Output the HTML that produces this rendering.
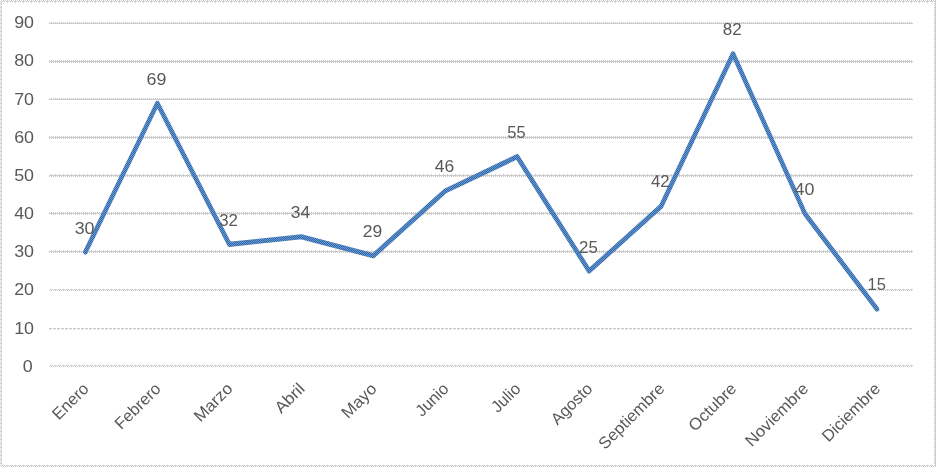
<!DOCTYPE html>
<html lang="es">
<head>
<meta charset="utf-8">
<title>Gráfico mensual</title>
<style>
html,body{margin:0;padding:0;background:#fff;}
body{width:936px;height:467px;overflow:hidden;}
svg{display:block;}
text{font-family:"Liberation Sans",sans-serif;fill:#595959;}
.g{stroke:#cccccc;stroke-width:1;shape-rendering:crispEdges;fill:none;}
</style>
</head>
<body>
<svg width="936" height="467" viewBox="0 0 936 467" font-size="17.0">
<rect x="0" y="0" width="936" height="467" fill="#ffffff"/>

<g id="border">
<line class="g" x1="0" y1="0.5" x2="936" y2="0.5" stroke-dasharray="1 1" stroke-dashoffset="-1"/>
<line class="g" x1="0" y1="1.5" x2="936" y2="1.5" stroke-dasharray="3 1" stroke-dashoffset="-2"/>
<line class="g" x1="0" y1="2.5" x2="936" y2="2.5" stroke-dasharray="1 7" stroke-dashoffset="-7"/>
<line class="g" x1="0.5" y1="0" x2="0.5" y2="467" stroke-dasharray="1 1" stroke-dashoffset="-1"/>
<line class="g" x1="1.5" y1="0" x2="1.5" y2="467" stroke-dasharray="3 1" stroke-dashoffset="-2"/>
<line class="g" x1="0" y1="465.5" x2="936" y2="465.5" stroke-dasharray="3 1" stroke-dashoffset="-2"/>
<line class="g" x1="0" y1="466.5" x2="936" y2="466.5" stroke-dasharray="1 1" stroke-dashoffset="-1"/>
<line class="g" x1="934.5" y1="0" x2="934.5" y2="467" stroke-dasharray="1 1" stroke-dashoffset="-1"/>
<line class="g" x1="935.5" y1="0" x2="935.5" y2="467"/>
</g>
<g id="grid">
<line class="g" x1="49" y1="22.5" x2="913" y2="22.5" stroke-dasharray="1 1" stroke-dashoffset="0"/>
<line class="g" x1="49" y1="23.5" x2="913" y2="23.5"/>
<line class="g" x1="49" y1="60.5" x2="913" y2="60.5" stroke-dasharray="1 1" stroke-dashoffset="0"/>
<line class="g" x1="49" y1="61.5" x2="913" y2="61.5"/>
<line class="g" x1="49" y1="62.5" x2="913" y2="62.5" stroke-dasharray="1 1" stroke-dashoffset="0"/>
<line class="g" x1="49" y1="98.5" x2="913" y2="98.5" stroke-dasharray="1 1" stroke-dashoffset="0"/>
<line class="g" x1="49" y1="99.5" x2="913" y2="99.5"/>
<line class="g" x1="49" y1="136.5" x2="913" y2="136.5" stroke-dasharray="1 1" stroke-dashoffset="0"/>
<line class="g" x1="49" y1="137.5" x2="913" y2="137.5"/>
<line class="g" x1="49" y1="138.5" x2="913" y2="138.5" stroke-dasharray="1 1" stroke-dashoffset="0"/>
<line class="g" x1="49" y1="174.5" x2="913" y2="174.5" stroke-dasharray="1 3" stroke-dashoffset="-2"/>
<line class="g" x1="49" y1="175.5" x2="913" y2="175.5"/>
<line class="g" x1="49" y1="176.5" x2="913" y2="176.5" stroke-dasharray="1 1" stroke-dashoffset="0"/>
<line class="g" x1="49" y1="212.5" x2="913" y2="212.5" stroke-dasharray="1 1" stroke-dashoffset="0"/>
<line class="g" x1="49" y1="213.5" x2="913" y2="213.5"/>
<line class="g" x1="49" y1="214.5" x2="913" y2="214.5" stroke-dasharray="1 1 1 1 1 3" stroke-dashoffset="-2"/>
<line class="g" x1="49" y1="250.5" x2="913" y2="250.5" stroke-dasharray="1 3" stroke-dashoffset="-2"/>
<line class="g" x1="49" y1="251.5" x2="913" y2="251.5"/>
<line class="g" x1="49" y1="252.5" x2="913" y2="252.5" stroke-dasharray="1 1" stroke-dashoffset="0"/>
<line class="g" x1="49" y1="289.5" x2="913" y2="289.5" stroke-dasharray="3 1" stroke-dashoffset="-1"/>
<line class="g" x1="49" y1="290.5" x2="913" y2="290.5" stroke-dasharray="1 1" stroke-dashoffset="0"/>
<line class="g" x1="49" y1="328.5" x2="913" y2="328.5" stroke-dasharray="3 1" stroke-dashoffset="0"/>
<line class="g" x1="49" y1="329.5" x2="913" y2="329.5" stroke-dasharray="1 3" stroke-dashoffset="-1"/>
<line class="g" x1="49" y1="365.5" x2="913" y2="365.5" stroke-dasharray="3 1" stroke-dashoffset="-1"/>
<line class="g" x1="49" y1="366.5" x2="913" y2="366.5" stroke-dasharray="1 1" stroke-dashoffset="0"/>
</g>
<g id="yaxis" text-anchor="end">
<text transform="translate(32.8,372) scale(1.05,1)">0</text>
<text transform="translate(34.0,334) scale(1.05,1)">10</text>
<text transform="translate(34.0,295) scale(1.05,1)">20</text>
<text transform="translate(34.0,257) scale(1.05,1)">30</text>
<text transform="translate(34.0,219) scale(1.05,1)">40</text>
<text transform="translate(34.0,181) scale(1.05,1)">50</text>
<text transform="translate(34.0,143) scale(1.05,1)">60</text>
<text transform="translate(34.0,105) scale(1.05,1)">70</text>
<text transform="translate(34.0,66) scale(1.05,1)">80</text>
<text transform="translate(34.0,28) scale(1.05,1)">90</text>
</g>
<defs><pattern id="dz" patternUnits="userSpaceOnUse" x="0" y="0" width="4" height="4" patternTransform="scale(1.111111,1)" shape-rendering="crispEdges"><rect x="0" y="0" width="4" height="4" fill="#6699cc"/><rect x="1" y="0" width="1" height="1" fill="#336699"/><rect x="3" y="0" width="1" height="1" fill="#336699"/><rect x="0" y="1" width="1" height="1" fill="#3366cc"/><rect x="2" y="1" width="1" height="1" fill="#336699"/><rect x="1" y="2" width="1" height="1" fill="#336699"/><rect x="3" y="2" width="1" height="1" fill="#336699"/><rect x="0" y="3" width="1" height="1" fill="#3366cc"/><rect x="2" y="3" width="1" height="1" fill="#3366cc"/></pattern></defs>
<g id="series" transform="scale(0.9,1)"><polyline points="94.870,251.97 174.833,103.34 254.796,244.35 334.759,236.73 414.722,255.78 494.685,190.99 574.648,156.69 654.611,271.03 734.574,206.24 814.537,53.80 894.500,213.86 974.463,309.13" fill="none" stroke="url(#dz)" stroke-width="5.1" stroke-linejoin="round" stroke-linecap="round"/></g>
<g id="labels" text-anchor="middle">
<text transform="translate(84.6,234) scale(1.05,1)">30</text>
<text transform="translate(156.5,85) scale(1.05,1)">69</text>
<text transform="translate(228.5,226) scale(0.99,1)">32</text>
<text transform="translate(300.5,218) scale(1.02,1)">34</text>
<text transform="translate(372.4,237) scale(1.03,1)">29</text>
<text transform="translate(444.4,172) scale(1.03,1)">46</text>
<text transform="translate(516.4,138) scale(0.97,1)">55</text>
<text transform="translate(588.4,253) scale(0.99,1)">25</text>
<text transform="translate(660.3,187) scale(0.99,1)">42</text>
<text transform="translate(732.3,35) scale(1.0,1)">82</text>
<text transform="translate(804.5,195) scale(1.05,1)">40</text>
<text transform="translate(876.7,290) scale(0.97,1)">15</text>
</g>
<g id="xaxis" text-anchor="end" font-size="16.4">
<text transform="translate(89.8,389.7) rotate(-45) scale(1.0,1)">Enero</text>
<text transform="translate(161.8,389.7) rotate(-45) scale(1.0,1)">Febrero</text>
<text transform="translate(233.7,389.7) rotate(-45) scale(1.03,1)">Marzo</text>
<text transform="translate(305.7,389.7) rotate(-45) scale(1.06,1)">Abril</text>
<text transform="translate(377.6,389.7) rotate(-45) scale(1.04,1)">Mayo</text>
<text transform="translate(449.6,389.7) rotate(-45) scale(1.0,1)">Junio</text>
<text transform="translate(521.6,389.7) rotate(-45) scale(1.0,1)">Julio</text>
<text transform="translate(593.5,389.7) rotate(-45) scale(1.0,1)">Agosto</text>
<text transform="translate(665.5,389.7) rotate(-45) scale(1.02,1)">Septiembre</text>
<text transform="translate(737.5,389.7) rotate(-45) scale(1.03,1)">Octubre</text>
<text transform="translate(809.4,389.7) rotate(-45) scale(1.03,1)">Noviembre</text>
<text transform="translate(881.4,389.7) rotate(-45) scale(1.015,1)">Diciembre</text>
</g>
</svg>
</body>
</html>
